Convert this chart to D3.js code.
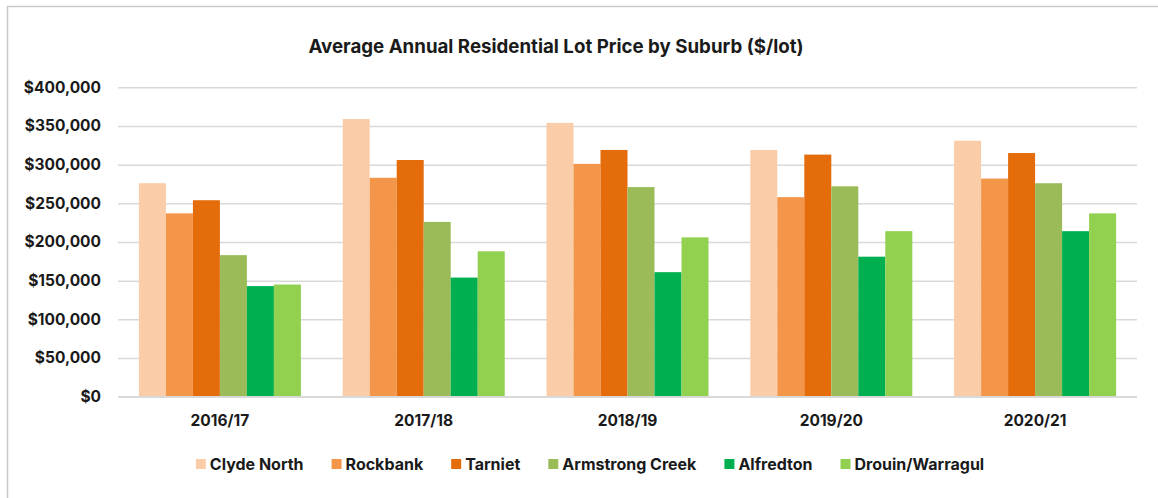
<!DOCTYPE html>
<html>
<head>
<meta charset="utf-8">
<script src="https://cdn.jsdelivr.net/npm/d3@7"></script>
<style>
  html, body { margin: 0; padding: 0; background: #fff; }
  svg { display: block; font-family: Inter, "DejaVu Sans", sans-serif; }
</style>
</head>
<body>
<svg id="chart" width="1158" height="498"></svg>
<script>
// Financial years on the x axis
const years = ["2016/17", "2017/18", "2018/19", "2019/20", "2020/21"];

// Suburbs (series) in legend order
const suburbs = ["Clyde North", "Rockbank", "Tarniet", "Armstrong Creek", "Alfredton", "Drouin/Warragul"];

// Average lot price per year for each suburb ($/lot)
const clydeNorth     = [276000, 359000, 354000, 319000, 331000];
const rockbank       = [237000, 283000, 301000, 258000, 282000];
const tarniet        = [254000, 306000, 319000, 313000, 315000];
const armstrongCreek = [183000, 226000, 271000, 272000, 276000];
const alfredton      = [143000, 154000, 161000, 181000, 214000];
const drouinWarragul = [145000, 188000, 206000, 214000, 237000];

const seriesColors = ["#FACDA8", "#F4964A", "#E46C0A", "#9BBB59", "#00B050", "#92D050"];

// y-axis tick values
const yTicks = [0, 50000, 100000, 150000, 200000, 250000, 300000, 350000, 400000];

const seriesValues = [clydeNorth, rockbank, tarniet, armstrongCreek, alfredton, drouinWarragul];

const svg = d3.select("#chart");
const W = 1158, H = 498;
const plot = { left: 118, right: 1137, top: 87.3, bottom: 396.7 };

svg.append("rect").attr("width", W).attr("height", H).attr("fill", "#fff");

// outer chart frame
svg.append("rect")
  .attr("x", 7.5).attr("y", 6.5)
  .attr("width", 1160).attr("height", 500)
  .attr("fill", "none")
  .attr("stroke", "#c9c9c9")
  .attr("stroke-width", 1.5);

// title
svg.append("text")
  .attr("x", 556).attr("y", 53)
  .attr("text-anchor", "middle")
  .attr("font-size", 18.7)
  .attr("font-weight", 700)
  .attr("fill", "#1a1a1a")
  .text("Average Annual Residential Lot Price by Suburb ($/lot)");

const y = d3.scaleLinear().domain([0, 400000]).range([plot.bottom, plot.top]);

const x0 = d3.scaleBand()
  .domain(years)
  .range([plot.left, plot.right])
  .paddingInner(0.205)
  .paddingOuter(0.1025);

const x1 = d3.scaleBand()
  .domain(suburbs)
  .range([0, x0.bandwidth()]);

// gridlines and y labels
const yAxis = d3.axisLeft(y)
  .tickValues(yTicks)
  .tickSize(-(plot.right - plot.left))
  .tickPadding(17)
  .tickFormat(d => "$" + d3.format(",")(d));

const gy = svg.append("g")
  .attr("transform", `translate(${plot.left},0)`)
  .call(yAxis);
gy.select(".domain").remove();
gy.selectAll(".tick line").attr("stroke", "#d9d9d9").attr("stroke-width", 1.5);
gy.selectAll(".tick text")
  .attr("font-size", 15.5)
  .attr("font-weight", 700)
  .attr("fill", "#1a1a1a")
  .attr("font-family", "Inter, sans-serif");

// bars
const groups = svg.append("g")
  .selectAll("g")
  .data(years)
  .join("g")
  .attr("transform", d => `translate(${x0(d)},0)`);

groups.selectAll("rect")
  .data((yr, i) => suburbs.map((s, j) => ({ s, v: seriesValues[j][i], c: seriesColors[j] })))
  .join("rect")
  .attr("x", d => x1(d.s))
  .attr("y", d => y(d.v))
  .attr("width", x1.bandwidth())
  .attr("height", d => y(0) - y(d.v))
  .attr("fill", d => d.c);

// x axis
const xAxis = d3.axisBottom(x0).tickSize(0).tickPadding(18);
const gx = svg.append("g")
  .attr("transform", `translate(0,${plot.bottom})`)
  .call(xAxis);
gx.select(".domain").attr("stroke", "#d9d9d9").attr("stroke-width", 1.5)
  .attr("d", `M${plot.left},0H${plot.right}`);
gx.selectAll(".tick text")
  .attr("font-size", 15.5)
  .attr("font-weight", 700)
  .attr("fill", "#1a1a1a")
  .attr("font-family", "Inter, sans-serif");

// legend
const legend = svg.append("g");
const legendY = 464;
let cx = 0;
suburbs.forEach((s, j) => {
  const g = legend.append("g");
  g.append("rect")
    .attr("x", 0).attr("y", -5)
    .attr("width", 10).attr("height", 10)
    .attr("fill", seriesColors[j]);
  const t = g.append("text")
    .attr("x", 14).attr("y", 0)
    .attr("dy", "0.35em")
    .attr("font-size", 16)
    .attr("font-weight", 700)
    .attr("fill", "#1a1a1a")
    .text(s);
  const w = 14 + t.node().getComputedTextLength();
  g.attr("transform", `translate(${cx},${legendY})`);
  cx += w + 28;
});
const legendWidth = cx - 28;
legend.attr("transform", `translate(${590 - legendWidth / 2},0)`);
</script>
</body>
</html>
